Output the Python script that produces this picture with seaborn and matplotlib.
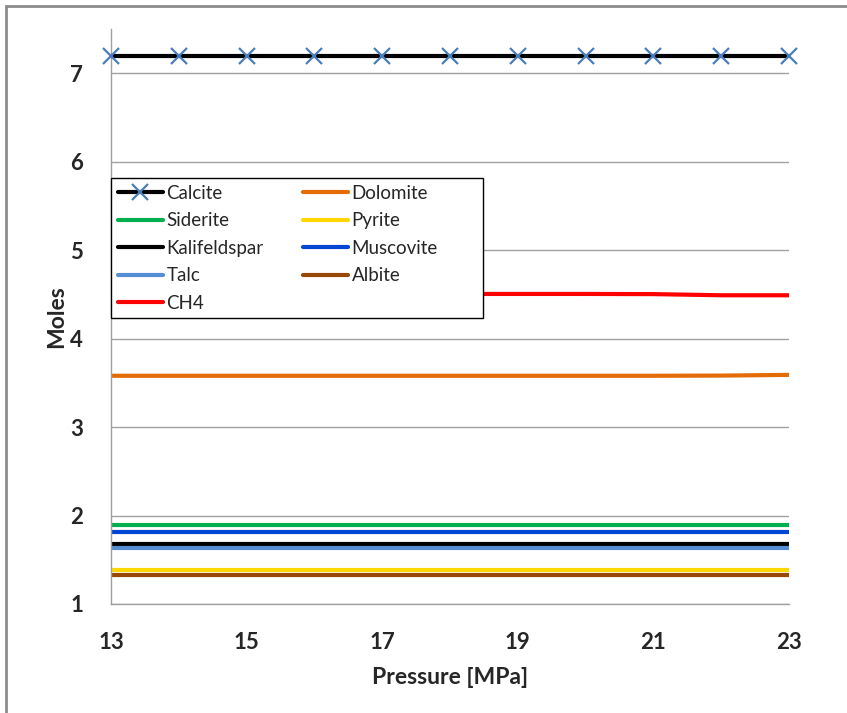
import numpy as np
import pandas as pd
import matplotlib
matplotlib.use("Agg")
import matplotlib.pyplot as plt
import seaborn as sns
from matplotlib.patches import Rectangle

pressure = [13, 14, 15, 16, 17, 18, 19, 20, 21, 22, 23]
calcite = [7.19] * 11
dolomite = [3.58, 3.58, 3.58, 3.58, 3.58, 3.58, 3.58, 3.58, 3.58, 3.582, 3.59]
siderite = [1.89] * 11
pyrite = [1.39] * 11
kalifeldspar = [1.673] * 11
muscovite = [1.817] * 11
talc = [1.635] * 11
albite = [1.33] * 11
ch4 = [4.505, 4.505, 4.505, 4.505, 4.505, 4.505, 4.505, 4.505, 4.503, 4.49, 4.49]

series_names = ["Calcite", "Dolomite", "Siderite", "Pyrite", "Kalifeldspar",
                "Muscovite", "Talc", "Albite", "CH4"]
series_values = [calcite, dolomite, siderite, pyrite, kalifeldspar,
                 muscovite, talc, albite, ch4]
colors = ["#000000", "#E36C09", "#00B050", "#FFD700", "#000000",
          "#0046D5", "#558ED5", "#984807", "#FF0000"]

sns.set_style("white")
plt.rcParams['font.family'] = ['Lato', 'DejaVu Sans']

fig = plt.figure(figsize=(8.47, 7.13), dpi=100)
ax = fig.add_axes([111/847, 1-604/713, (789-111)/847, (604-29)/713])

for name, vals, c in zip(series_names, series_values, colors):
    df = pd.DataFrame({"Pressure": pressure, "Moles": vals})
    if name == "Calcite":
        sns.lineplot(data=df, x="Pressure", y="Moles", ax=ax, color=c, lw=3,
                     marker="x", markersize=11, markeredgewidth=1.6,
                     markeredgecolor="#4A7EBB", label=name, zorder=5,
                     clip_on=False)
    else:
        sns.lineplot(data=df, x="Pressure", y="Moles", ax=ax, color=c, lw=3,
                     label=name, solid_capstyle="round")

ax.set_xlim(13, 23)
ax.set_ylim(1, 7.5)
ax.set_xticks([13, 15, 17, 19, 21, 23])
ax.set_yticks([1, 2, 3, 4, 5, 6, 7])
ax.yaxis.grid(True, color="#A0A0A0", lw=1)
ax.xaxis.grid(False)
ax.set_axisbelow(True)
for s in ["top", "right"]:
    ax.spines[s].set_visible(False)
for s in ["left", "bottom"]:
    ax.spines[s].set_color("#A0A0A0")
    ax.spines[s].set_linewidth(1)
ax.tick_params(axis="both", length=0, labelsize=16)
ax.tick_params(axis="x", pad=20)
ax.tick_params(axis="y", pad=20)
for lbl in ax.get_xticklabels() + ax.get_yticklabels():
    lbl.set_fontweight("bold")
ax.set_xlabel("Pressure [MPa]", fontsize=16.5, fontweight="bold", labelpad=10)
ax.set_ylabel("Moles", fontsize=16.5, fontweight="bold", labelpad=2)

h, l = ax.get_legend_handles_labels()
hd = dict(zip(l, h))
order = ["Calcite", "Siderite", "Kalifeldspar", "Talc", "CH4",
         "Dolomite", "Pyrite", "Muscovite", "Albite"]
leg = ax.legend([hd[o] for o in order], order, ncol=2, loc="upper left",
                bbox_to_anchor=(111/847, 1-178/713), bbox_transform=fig.transFigure,
                frameon=False, fontsize=13.5,
                handlelength=2.4, handletextpad=0.2, columnspacing=2.1,
                labelspacing=0.56, borderaxespad=0, borderpad=0.35)
leg.set_zorder(10)

# legend box (Excel-style wide frame)
frame = Rectangle((111/847, 1-318/713), (483-111)/847, (318-178)/713,
                  transform=fig.transFigure, facecolor="white", edgecolor="black",
                  lw=1, zorder=9)
ax.add_artist(frame)
frame.set_clip_on(False)

fig.patches.append(Rectangle((6/847, -0.1), 1.2, 1-6/713+0.1, transform=fig.transFigure,
                             fill=False, edgecolor="#8C8C8C", lw=2))

fig.savefig("out.png", dpi=100)
